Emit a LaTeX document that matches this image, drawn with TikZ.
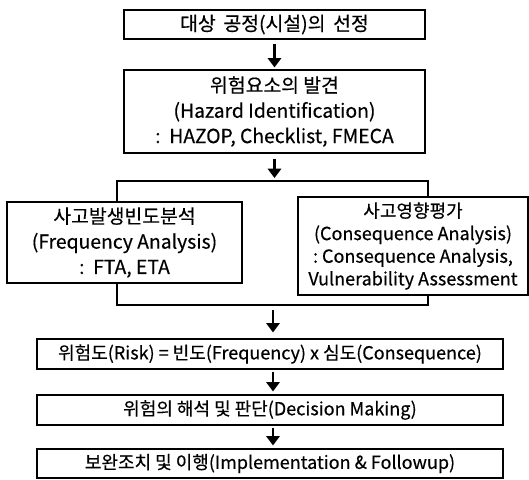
\documentclass[tikz,border=0pt]{standalone}
\usepackage{fontspec}
\setmainfont{Noto Sans CJK KR}[FakeBold=0.4]
\usetikzlibrary{arrows.meta}

\begin{document}
\begin{tikzpicture}[x=0.75pt,y=-0.75pt]
    \tikzset{stage/.style = {shape=rectangle, draw, line width=0.9pt, inner sep=0pt, align=center, font=\fontsize{14.5}{19}\selectfont}}
    \tikzset{flow/.style = {draw, line width=2.2pt, -{Triangle[width=10pt,length=7pt]}}}
    \tikzset{link/.style = {draw, line width=1pt}}

    \useasboundingbox (0,0) rectangle (529,479);

    % boxes
    \node[stage, minimum width=225.75pt, minimum height=21.75pt] (sel) at (274.5,24.5) {대상\hspace{0.4em}공정(시설)의\hspace{0.4em}선정};
    \node[stage, minimum width=225.75pt, minimum height=62.25pt] (haz) at (274.5,111.5) {위험요소의 발견\\(Hazard Identification)\\:\ \ HAZOP, Checklist, FMECA};
    \node[stage, minimum width=176.25pt, minimum height=60.75pt] (freq) at (124.5,242.5) {사고발생빈도분석\\(Frequency Analysis)\\:\ \ FTA, ETA};
    \node[stage, minimum width=172.5pt, minimum height=73.5pt, font=\fontsize{13.5}{17}\selectfont] (cons) at (413,246) {사고영향평가\\(Consequence Analysis)\\:\ Consequence Analysis,\\Vulnerability Assessment};
    \node[stage, minimum width=349.5pt, minimum height=22.5pt, font=\fontsize{13.5}{18}\selectfont] (risk) at (270,354) {위험도(Risk) = 빈도(Frequency) x 심도(Consequence)};
    \node[stage, minimum width=349.5pt, minimum height=22.5pt, font=\fontsize{13.5}{18}\selectfont] (dec) at (270,410) {위험의 해석 및 판단(Decision Making)};
    \node[stage, minimum width=349.5pt, minimum height=21.75pt, font=\fontsize{13.5}{18}\selectfont] (impl) at (270,463.5) {보완조치 및 이행(Implementation \& Followup)};

    % bracket corners
    \coordinate (tl) at (117,181);
    \coordinate (tr) at (428,181);
    \coordinate (bl) at (117,305);
    \coordinate (br) at (428,305);
    \coordinate (bm) at (273,305);

    % lines
    \draw [link] (freq.north -| tl) -- (tl) -- (tr) -- (cons.north -| tr);
    \draw [link] (freq.south -| bl) -- (bl) -- (br) -- (cons.south -| br);

    % arrows
    \draw [flow, shorten <=3pt, shorten >=1.5pt] (sel.south) -- (haz.north);
    \draw [flow, shorten <=3.75pt, shorten >=2.25pt] (haz.south) -- (haz.south |- tl);
    \draw [flow, shorten <=3.75pt, shorten >=4.5pt] (bm) -- (bm |- risk.north);
    \draw [flow, shorten <=1.5pt, shorten >=2.25pt] (bm |- risk.south) -- (bm |- dec.north);
    \draw [flow, shorten <=1.5pt, shorten >=2.25pt] (bm |- dec.south) -- (bm |- impl.north);
\end{tikzpicture}
\end{document}
